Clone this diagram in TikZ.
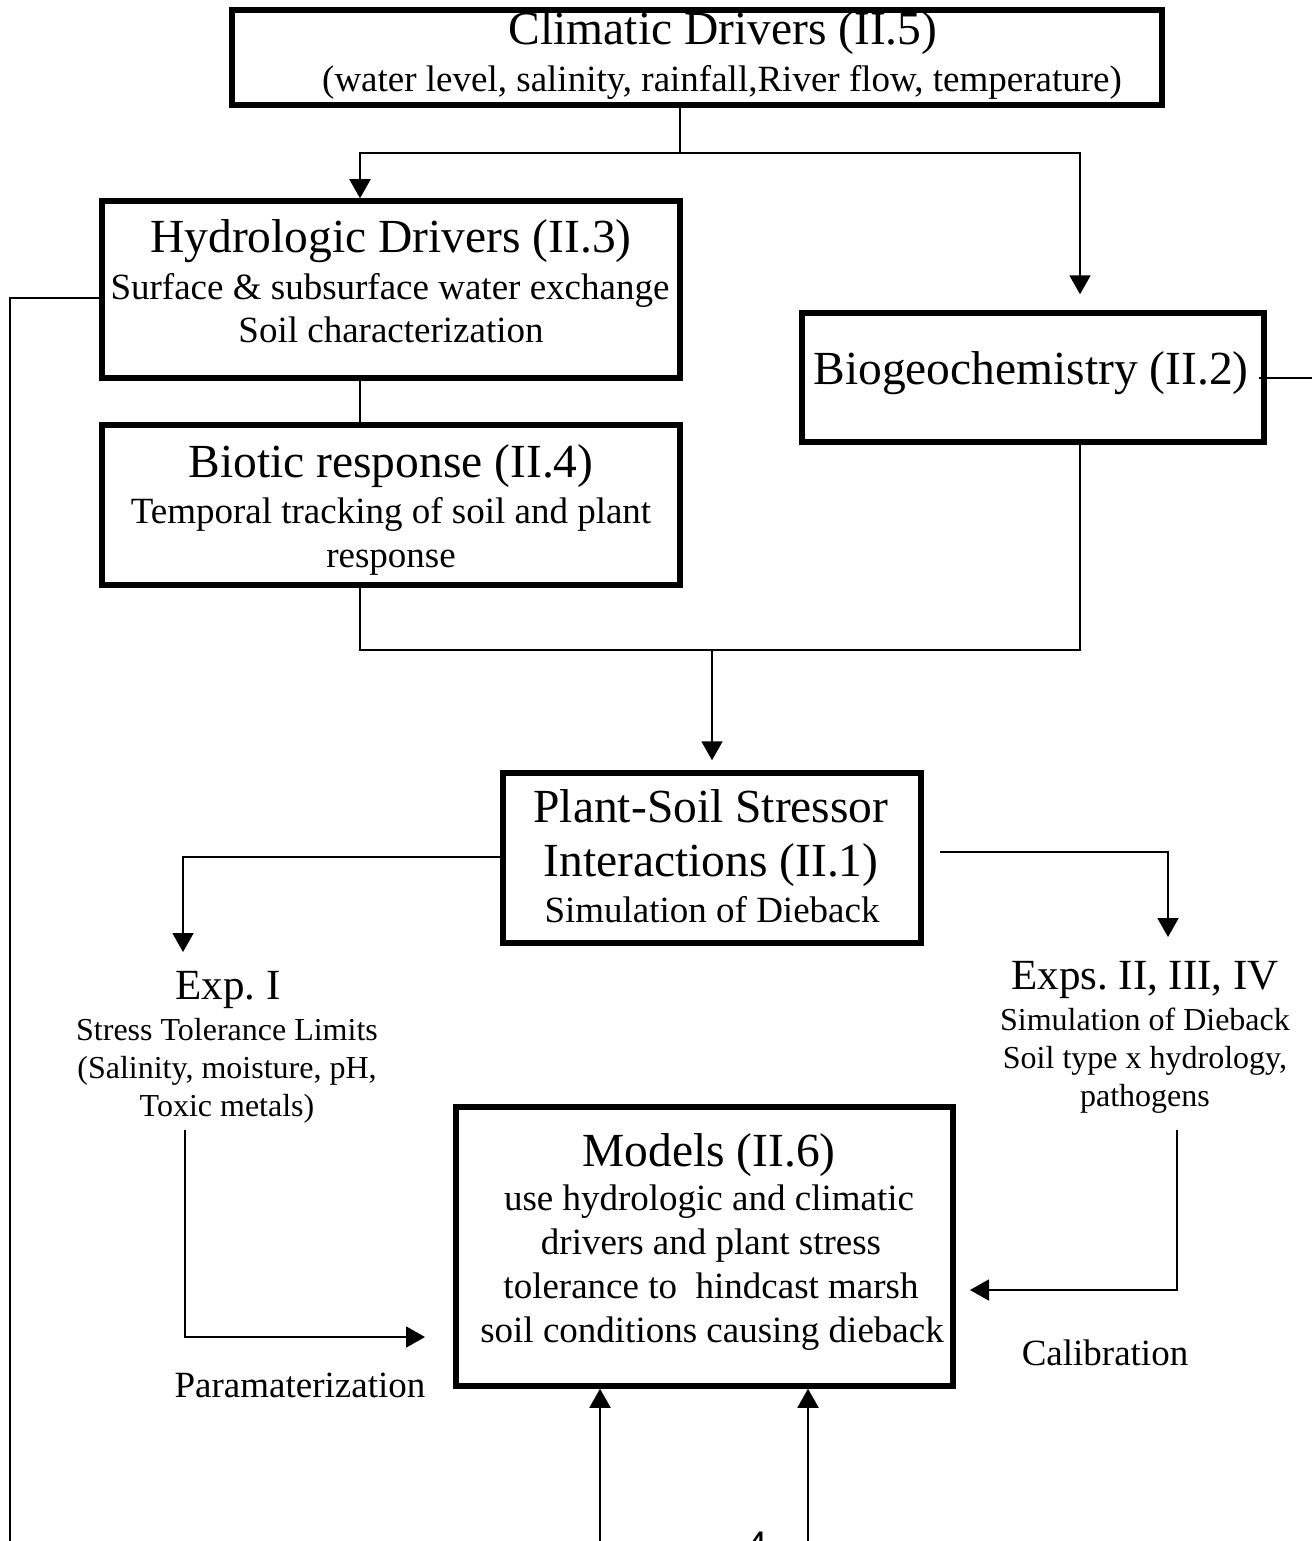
\documentclass[tikz,border=0pt]{standalone}
\usepackage{fontspec}
\setmainfont{Liberation Serif}
\newfontfamily\sansfam{Liberation Sans}
\usetikzlibrary{arrows.meta}
\newcommand\fTitle{\fontsize{47.5}{55}\selectfont}
\newcommand\fExp{\fontsize{43}{50}\selectfont}
\newcommand\fMid{\fontsize{37}{43}\selectfont}
\newcommand\fSmall{\fontsize{32}{38}\selectfont}
\frenchspacing
\begin{document}
\begin{tikzpicture}[x=1pt,y=-1pt,
  box/.style={draw, line width=5.5pt, inner sep=0pt},
  txt/.style={inner sep=0pt, anchor=base},
  conn/.style={line width=2pt},
  arr/.style={line width=2pt, -{Triangle[width=21pt,length=19pt]}}]
\fill[white] (0,0) rectangle (1312,1541);
\useasboundingbox (0,0) rectangle (1312,1541);
\clip (0,0) rectangle (1312,1541);

% boxes
\node[box, minimum width=930pt, minimum height=95pt] (clim) at (697,57.5) {};
\node[box, minimum width=578pt, minimum height=177pt] (hydro) at (391,289.5) {};
\node[box, minimum width=578pt, minimum height=160pt] (biotic) at (391,505) {};
\node[box, minimum width=462pt, minimum height=129pt] (biogeo) at (1033,377.5) {};
\node[box, minimum width=418pt, minimum height=170pt] (plant) at (712,858) {};
\node[box, minimum width=497pt, minimum height=279pt] (models) at (704.5,1246.5) {};

% texts in boxes
\node[txt, font=\fTitle] (climT) at (723,45) {Climatic Drivers (II.5)};
\node[txt, font=\fMid] (climS) at (722,92) {(water level, salinity, rainfall,River flow, temperature)};

\node[txt, font=\fTitle] (hydroT) at (391,252) {Hydrologic Drivers (II.3)};
\node[txt, font=\fMid] (hydroA) at (390,299) {Surface \& subsurface water exchange};
\node[txt, font=\fMid] (hydroB) at (391,342) {Soil characterization};

\node[txt, font=\fTitle] (bioticT) at (391,477) {Biotic response (II.4)};
\node[txt, font=\fMid] (bioticA) at (391,523) {Temporal tracking of soil and plant};
\node[txt, font=\fMid] (bioticB) at (391,567) {response};

\node[txt, font=\fTitle] (biogeoT) at (1031,384) {Biogeochemistry (II.2)};

\node[txt, font=\fTitle] (plantT) at (711,822) {Plant-Soil Stressor};
\node[txt, font=\fTitle] (plantA) at (711,876) {Interactions (II.1)};
\node[txt, font=\fMid] (plantB) at (712,922) {Simulation of Dieback};

\node[txt, font=\fTitle] (modelsT) at (709,1166) {Models (II.6)};
\node[txt, font=\fMid] (modelsA) at (709,1210) {use hydrologic and climatic};
\node[txt, font=\fMid] (modelsB) at (711,1254) {drivers and plant stress};
\node[txt, font=\fMid] (modelsC) at (711,1298) {tolerance to\ \ hindcast marsh};
\node[txt, font=\fMid] (modelsD) at (712,1342) {soil conditions causing dieback};

% free texts
\node[txt, font=\fExp] (expI) at (228,999) {Exp. I};
\node[txt, font=\fSmall] (expIa) at (227,1040) {Stress Tolerance Limits};
\node[txt, font=\fSmall] (expIb) at (227,1078) {(Salinity, moisture, pH,};
\node[txt, font=\fSmall] (expIc) at (227,1116) {Toxic metals)};

\node[txt, font=\fExp] (exps) at (1145,989) {Exps. II, III, IV};
\node[txt, font=\fSmall] (expsA) at (1145,1030) {Simulation of Dieback};
\node[txt, font=\fSmall] (expsB) at (1145,1068) {Soil type x hydrology,};
\node[txt, font=\fSmall] (expsC) at (1145,1106) {pathogens};

\node[txt, font=\fMid] (calib) at (1105,1365) {Calibration};
\node[txt, font=\fMid] (param) at (300,1397) {Paramaterization};
\node[txt, font=\sansfam\fontsize{37}{43}\selectfont] (pagenum) at (757,1557) {4};

% coordinates
\coordinate (cj) at (680,153);
\coordinate (cl) at (360,153);
\coordinate (cr) at (1080,153);
\coordinate (bl) at (360,650);
\coordinate (bm) at (712,650);
\coordinate (br) at (1080,650);
\coordinate (lt) at (10,298);
\coordinate (lb) at (10,1541);
\coordinate (rs) at (1312,377.5);
\coordinate (pl) at (183,857);
\coordinate (plEnd) at (183,952);
\coordinate (pr0) at (940,852);
\coordinate (pr) at (1168,852);
\coordinate (prEnd) at (1168,937);
\coordinate (e1top) at (185,1130);
\coordinate (e1bot) at (185,1337);
\coordinate (e1end) at (425,1337);
\coordinate (e2top) at (1177,1130);
\coordinate (e2bot) at (1177,1290);
\coordinate (e2end) at (970,1290);
\coordinate (u1) at (600,1541);
\coordinate (u2) at (808,1541);

% connectors
\draw[conn] (clim.south -| cj) -- (cj);
\draw[arr] (cj) -- (cl) -- (hydro.north -| cl);
\draw[arr, shorten >=16pt] (cj) -- (cr) -- (biogeo.north -| cr);
\draw[conn] (hydro.south -| cl) -- (biotic.north -| cl);
\draw[conn] (biotic.south -| bl) -- (bl) -- (br) -- (biogeo.south -| br);
\draw[arr, shorten >=10pt] (bm) -- (plant.north);
\draw[conn] (hydro.west |- lt) -- (lt) -- (lb);
\draw[conn, shorten <=-8pt] (biogeo.east) -- (rs);
\draw[arr] (plant.west |- pl) -- (pl) -- (plEnd);
\draw[arr] (pr0) -- (pr) -- (prEnd);
\draw[arr] (e1top) -- (e1bot) -- (e1end);
\draw[arr] (e2top) -- (e2bot) -- (e2end);
\draw[arr] (u1) -- (models.south -| u1);
\draw[arr] (u2) -- (models.south -| u2);
\end{tikzpicture}
\end{document}
